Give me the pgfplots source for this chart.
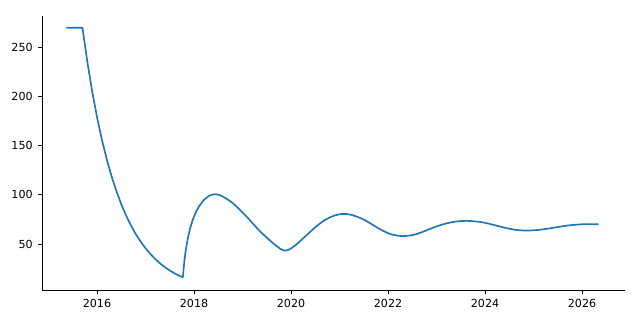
\documentclass[border=0pt]{standalone}
\usepackage{fontspec}
\setmainfont{DejaVu Sans}
\usepackage{pgfplots}
\pgfplotsset{compat=1.18}
\definecolor{mplblue}{HTML}{1F77B4}
\begin{document}
\begin{tikzpicture}
\begin{axis}[
  scale only axis,
  width=419.8pt, height=197.3pt,
  xmin=2014.866, xmax=2026.887,
  ymin=3.3, ymax=281.5,
  axis x line*=bottom, axis y line*=left,
  axis line style={line width=0.64pt, -},
  xtick={2016,2018,2020,2022,2024,2026},
  ytick={50,100,150,200,250},
  tick align=outside,
  major tick length=2.8pt,
  tick style={line width=0.64pt, black},
  tick label style={font=\fontsize{8}{10}\selectfont},
  xticklabel style={yshift=-0.4pt},
  yticklabel style={xshift=-0.4pt},
  /pgf/number format/1000 sep={},
  /pgf/number format/assume math mode=true,
]
\addplot[mplblue, line width=1.2pt, line join=round] coordinates {
(2015.37,269.5) (2015.70,269.5)
(2015.8,235.1) (2015.9,205.1) (2016.0,178.9) (2016.1,156.1) (2016.2,136.2)
(2016.3,118.8) (2016.4,103.7) (2016.5,90.4) (2016.6,78.9) (2016.7,68.8)
(2016.8,60.0) (2016.9,52.4) (2017.0,45.7) (2017.1,39.9) (2017.2,34.8)
(2017.3,30.3) (2017.4,26.5) (2017.5,23.1) (2017.6,20.2) (2017.7,17.6)
(2017.77,16.2)
(2017.80,32) (2017.83,44) (2017.87,55) (2017.92,66) (2017.97,74) (2018.03,81.5)
(2018.1,88) (2018.2,94.5) (2018.3,98.6) (2018.38,100.2) (2018.45,100.5)
(2018.52,99.8) (2018.6,98) (2018.7,95) (2018.8,91.5) (2018.9,87) (2019.0,82)
(2019.1,77) (2019.2,71.5) (2019.3,66) (2019.4,61) (2019.5,56.5) (2019.6,52)
(2019.7,48) (2019.78,45) (2019.85,43.4) (2019.9,43.3) (2019.95,44.2)
(2020.0,45.5) (2020.1,49) (2020.2,53.5) (2020.3,58) (2020.4,62.5) (2020.5,67)
(2020.6,71) (2020.7,74.5) (2020.8,77) (2020.9,79) (2021.0,80.2) (2021.05,80.5)
(2021.15,80.4) (2021.25,79.6) (2021.4,77) (2021.5,74.8) (2021.6,72)
(2021.7,69) (2021.8,66) (2021.9,63.3) (2022.0,61) (2022.1,59.4) (2022.2,58.4)
(2022.3,58) (2022.4,58.3) (2022.5,59) (2022.6,60.3) (2022.7,62) (2022.8,64)
(2022.9,66) (2023.0,67.9) (2023.1,69.5) (2023.2,70.9) (2023.3,72) (2023.4,72.8)
(2023.5,73.3) (2023.62,73.5) (2023.75,73.2) (2023.9,72.4) (2024.0,71.5)
(2024.1,70.4) (2024.2,69.1) (2024.3,67.8) (2024.4,66.6) (2024.5,65.5)
(2024.6,64.6) (2024.7,64.0) (2024.8,63.7) (2024.9,63.7) (2025.0,63.9)
(2025.1,64.3) (2025.2,64.9) (2025.3,65.6) (2025.4,66.4) (2025.5,67.2)
(2025.6,68) (2025.7,68.7) (2025.8,69.3) (2025.9,69.7) (2026.0,70)
(2026.1,70.2) (2026.2,70.2) (2026.34,70.0)
};
\end{axis}
\useasboundingbox (-30.24pt,-21.6pt) rectangle (430.56pt,208.8pt);
\end{tikzpicture}
\end{document}
